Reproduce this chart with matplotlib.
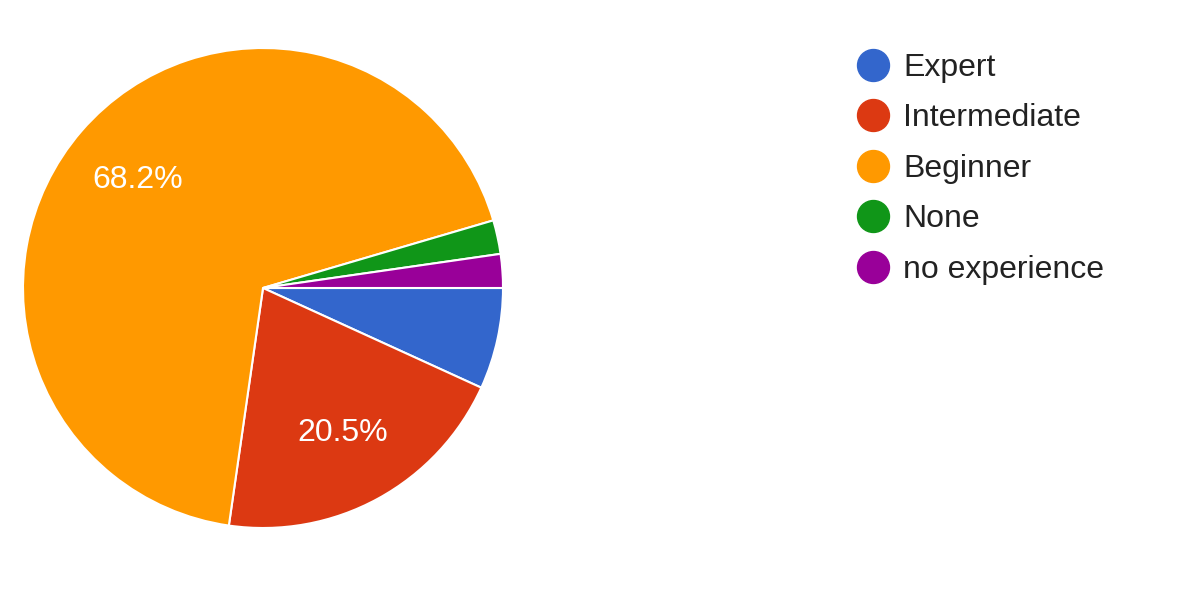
import matplotlib.pyplot as plt
from matplotlib.lines import Line2D

# answer counts (44 responses)
labels = ['Expert', 'Intermediate', 'Beginner', 'None', 'no experience']
counts = [3, 9, 30, 1, 1]
colors = ['#3366cc', '#dc3912', '#ff9900', '#109618', '#990099']

plt.rcParams['font.family'] = ['Liberation Sans', 'DejaVu Sans']

fig = plt.figure(figsize=(12, 6.06), dpi=100)
ax = fig.add_axes([23 / 1200, (606 - 528) / 606, 480 / 1200, 480 / 606])


def pct_label(p):
    # small slices get no label, like the original
    return '%.1f%%' % p if p > 10 else ''


wedges, texts, autotexts = ax.pie(counts, colors=colors, startangle=0, counterclock=False,
                                  autopct=pct_label, pctdistance=0.69,
                                  wedgeprops=dict(edgecolor='white', linewidth=1.5),
                                  textprops=dict(color='white', fontsize=23))
ax.set_xlim(-1, 1)
ax.set_ylim(-1, 1)
ax.set_aspect('equal')
ax.axis('off')

handles = [Line2D([], [], marker='o', linestyle='none', markersize=23,
                  markerfacecolor=c, markeredgecolor=c) for c in colors]
fig.legend(handles, labels, loc='upper left', bbox_to_anchor=(838 / 1200, 1 - 37 / 606),
           frameon=False, fontsize=23, labelcolor='#222222', handletextpad=0.34,
           labelspacing=0.64, handlelength=1.2, borderpad=0)

fig.savefig('out.png', dpi=100, facecolor='white')
